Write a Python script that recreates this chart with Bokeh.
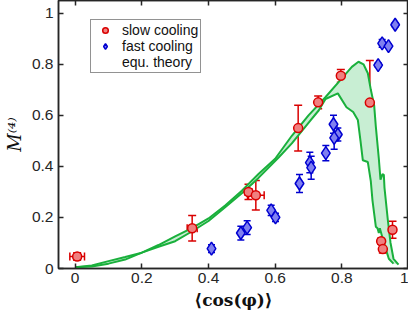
from bokeh.plotting import figure
from bokeh.models import (ColumnDataSource, Whisker, TeeHead, FixedTicker, LinearAxis,
                          Range1d, Legend, LegendItem)
from bokeh.embed import file_html
from bokeh.resources import INLINE

# ---------------- data ----------------
slow_x = [0.006, 0.351, 0.520, 0.542, 0.669, 0.729, 0.797, 0.884, 0.918, 0.923, 0.952]
slow_y = [0.047, 0.158, 0.300, 0.287, 0.550, 0.651, 0.755, 0.650, 0.107, 0.076, 0.152]
slow_yerr = [0.015, 0.050, 0.030, 0.058, 0.090, 0.025, 0.025, 0.165, 0.012, 0.015, 0.033]
slow_xerr = [0.022, 0.015, 0.010, 0.025, 0.0, 0.0, 0.0, 0.0, 0.0, 0.0, 0.0]

fast_x = [0.409, 0.497, 0.516, 0.588, 0.601, 0.673, 0.704, 0.708, 0.752, 0.775, 0.788, 0.777,
          0.909, 0.921, 0.940, 0.960]
fast_y = [0.078, 0.139, 0.160, 0.228, 0.200, 0.333, 0.415, 0.395, 0.452, 0.565, 0.525, 0.512,
          0.797, 0.882, 0.871, 0.955]
fast_yerr = [0.015, 0.027, 0.027, 0.020, 0.016, 0.035, 0.040, 0.045, 0.030, 0.035, 0.025, 0.045,
             0.008, 0.015, 0.008, 0.008]

theory_upper_x = [0.0, 0.05, 0.1, 0.15, 0.2, 0.25, 0.3, 0.35, 0.4, 0.45, 0.5, 0.55, 0.6, 0.65,
                  0.7, 0.75, 0.8, 0.83, 0.85, 0.865, 0.878, 0.887, 0.897, 0.902, 0.911, 0.916,
                  0.922, 0.926, 0.928, 0.938, 0.946, 0.955, 0.97]
theory_upper_y = [0.005, 0.012, 0.029, 0.045, 0.062, 0.092, 0.126, 0.158, 0.196, 0.247, 0.305,
                  0.37, 0.43, 0.52, 0.60, 0.67, 0.745, 0.79, 0.81, 0.80, 0.765, 0.70, 0.639,
                  0.556, 0.43, 0.348, 0.37, 0.367, 0.316, 0.19, 0.101, 0.038, 0.015]
theory_lower_x = [0.0, 0.05, 0.1, 0.15, 0.2, 0.25, 0.3, 0.35, 0.4, 0.45, 0.5, 0.55, 0.611, 0.65,
                  0.703, 0.731, 0.751, 0.788, 0.814, 0.834, 0.848, 0.856, 0.863, 0.878, 0.887,
                  0.892, 0.902, 0.907, 0.911, 0.914, 0.926, 0.941, 0.955]
theory_lower_y = [0.005, 0.008, 0.019, 0.035, 0.062, 0.085, 0.107, 0.145, 0.186, 0.240, 0.295,
                  0.355, 0.436, 0.49, 0.575, 0.62, 0.664, 0.686, 0.632, 0.613, 0.582, 0.50,
                  0.424, 0.417, 0.341, 0.266, 0.164, 0.158, 0.139, 0.158, 0.101, 0.038, 0.019]

x_ticks = [0, 0.2, 0.4, 0.6, 0.8, 1]
x_tick_labels = ["0", "0.2", "0.4", "0.6", "0.8", "1"]
y_ticks = [0, 0.2, 0.4, 0.6, 0.8, 1]
y_tick_labels = ["0", "0.2", "0.4", "0.6", "0.8", "1"]

legend_labels = ["slow cooling", "fast cooling", "equ. theory"]

# ---------------- styles ----------------
RED = "#d90000"
RED_FILL = "#f08080"
BLUE = "#0000d0"
BLUE_FILL = "#8080f0"
GREEN = "#1ab03c"
GREEN_FILL = "#c8eed3"
AX = "#262626"
TICK_FONT = "Liberation Sans"

p = figure(frame_width=350, frame_height=268, x_range=Range1d(-0.05, 1.0),
           y_range=Range1d(0, 1.05),
           output_backend="svg", toolbar_location=None,
           min_border_left=0, min_border_right=0, min_border_top=0, min_border_bottom=0)
p.xgrid.visible = False
p.ygrid.visible = False
p.outline_line_color = AX
p.outline_line_width = 1.5
p.background_fill_color = "white"
p.border_fill_color = "white"

# theory band
band_x = theory_upper_x + theory_lower_x[::-1]
band_y = theory_upper_y + theory_lower_y[::-1]
p.patch(band_x, band_y, fill_color=GREEN_FILL, fill_alpha=1.0, line_color=None)
p.line(theory_upper_x, theory_upper_y, line_color=GREEN, line_width=2)
p.line(theory_lower_x, theory_lower_y, line_color=GREEN, line_width=2)

# error bars
slow_src = ColumnDataSource(dict(
    x=slow_x, y=slow_y,
    lo=[y - e for y, e in zip(slow_y, slow_yerr)],
    hi=[y + e for y, e in zip(slow_y, slow_yerr)]))
p.add_layout(Whisker(base="x", lower="lo", upper="hi", source=slow_src, dimension="height",
                     line_color=RED, line_width=1.5,
                     upper_head=TeeHead(size=8, line_color=RED, line_width=1.5),
                     lower_head=TeeHead(size=8, line_color=RED, line_width=1.5)))
xi = [i for i, e in enumerate(slow_xerr) if e > 0]
slow_xsrc = ColumnDataSource(dict(
    y=[slow_y[i] for i in xi],
    lo=[slow_x[i] - slow_xerr[i] for i in xi],
    hi=[slow_x[i] + slow_xerr[i] for i in xi]))
p.add_layout(Whisker(base="y", lower="lo", upper="hi", source=slow_xsrc, dimension="width",
                     line_color=RED, line_width=1.5,
                     upper_head=TeeHead(size=8, line_color=RED, line_width=1.5),
                     lower_head=TeeHead(size=8, line_color=RED, line_width=1.5)))
fast_src = ColumnDataSource(dict(
    x=fast_x, y=fast_y,
    lo=[y - e for y, e in zip(fast_y, fast_yerr)],
    hi=[y + e for y, e in zip(fast_y, fast_yerr)]))
p.add_layout(Whisker(base="x", lower="lo", upper="hi", source=fast_src, dimension="height",
                     line_color=BLUE, line_width=1.5,
                     upper_head=TeeHead(size=7, line_color=BLUE, line_width=1.5),
                     lower_head=TeeHead(size=7, line_color=BLUE, line_width=1.5)))

r_slow = p.scatter("x", "y", source=slow_src, marker="circle", size=9,
                   fill_color=RED_FILL, line_color=RED, line_width=1.5, level="overlay")
r_fast = p.scatter("x", "y", source=fast_src, marker="diamond", size=13,
                   fill_color=BLUE_FILL, line_color=BLUE, line_width=1.5, level="overlay")
r_theory = p.quad(left=[], right=[], top=[], bottom=[], fill_color=GREEN_FILL, line_color=None)

# axes
def style_axis(ax, ticks, labels, show_labels=True):
    ax.ticker = FixedTicker(ticks=ticks)
    ax.minor_tick_line_color = None
    ax.major_tick_in = 5
    ax.major_tick_out = 0
    ax.major_tick_line_color = AX
    ax.major_tick_line_width = 1.5
    ax.axis_line_color = AX
    ax.axis_line_width = 1.5
    if show_labels:
        ax.major_label_overrides = {t: l for t, l in zip(ticks, labels)}
        ax.major_label_text_font = TICK_FONT
        ax.major_label_text_color = AX
        ax.major_label_text_font_size = "15.5px"
    else:
        ax.major_label_text_color = None
        ax.major_label_text_font_size = "1px"
        ax.major_label_standoff = 0
        ax.axis_label_standoff = 0

style_axis(p.xaxis[0], x_ticks, x_tick_labels)
style_axis(p.yaxis[0], y_ticks, y_tick_labels)
p.xaxis[0].major_label_standoff = 4
p.yaxis[0].major_label_standoff = 5

p.xaxis[0].axis_label = "⟨cos(φ)⟩"
p.xaxis[0].axis_label_text_font = "DejaVu Serif"
p.xaxis[0].axis_label_text_font_style = "bold"
p.xaxis[0].axis_label_text_font_size = "17px"
p.xaxis[0].axis_label_text_color = "#111111"
p.xaxis[0].axis_label_standoff = 4

p.yaxis[0].axis_label = "M⁽⁴⁾"
p.yaxis[0].axis_label_text_font = "DejaVu Serif"
p.yaxis[0].axis_label_text_font_style = "italic"
p.yaxis[0].axis_label_text_font_size = "18px"
p.yaxis[0].axis_label_text_color = "#111111"
p.yaxis[0].axis_label_standoff = 4

top_ax = LinearAxis()
style_axis(top_ax, x_ticks, x_tick_labels, show_labels=False)
p.add_layout(top_ax, "above")
right_ax = LinearAxis()
style_axis(right_ax, y_ticks, y_tick_labels, show_labels=False)
p.add_layout(right_ax, "right")

legend = Legend(items=[LegendItem(label=legend_labels[0], renderers=[r_slow]),
                       LegendItem(label=legend_labels[1], renderers=[r_fast]),
                       LegendItem(label=legend_labels[2], renderers=[r_theory])],
                location=(32, 195))
legend.label_text_font = TICK_FONT
legend.label_text_font_size = "14px"
legend.label_text_color = "#111111"
legend.label_height = 14
legend.glyph_height = 14
legend.glyph_width = 24
legend.label_standoff = 5
legend.spacing = 0
legend.padding = 2
legend.margin = 0
legend.border_line_color = AX
legend.border_line_width = 1.2
legend.background_fill_alpha = 1.0
p.add_layout(legend, "center")

open("out.html", "w").write(file_html(p, INLINE))
